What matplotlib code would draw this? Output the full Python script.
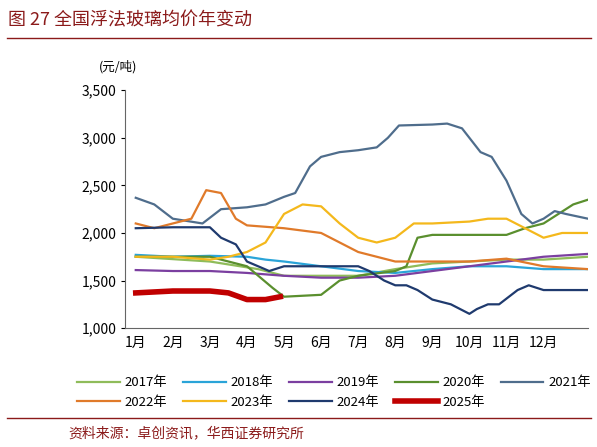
import matplotlib
matplotlib.use("Agg")
import matplotlib.pyplot as plt
from matplotlib.lines import Line2D

plt.rcParams['font.family'] = ['Noto Sans CJK SC', 'DejaVu Sans']

months = ['1月','2月','3月','4月','5月','6月','7月','8月','9月','10月','11月','12月']
x2017 = [1,3,4.3,5,6,7,8,9,10,11,12,13.2]
y2017 = [1750,1700,1620,1550,1550,1550,1620,1680,1700,1720,1720,1750]
x2018 = [1,2,3,4,4.5,5,6,7,8,9,10,11,12,13.2]
y2018 = [1770,1750,1760,1750,1720,1700,1650,1600,1580,1620,1650,1650,1620,1620]
x2019 = [1,2,3,4,5,6,7,8,9,10,11,12,13.2]
y2019 = [1610,1600,1600,1580,1550,1530,1530,1550,1600,1650,1700,1750,1780]
x2020 = [1,2,3,4,4.7,5,6,6.5,7,8,8.3,8.6,9,10,11,11.5,12,12.8,13.2]
y2020 = [1750,1750,1750,1650,1420,1330,1350,1500,1550,1600,1650,1950,1980,1980,1980,2050,2100,2300,2350]
x2021 = [1,1.5,2,2.8,3.3,4,4.5,5,5.3,5.7,6,6.5,7,7.5,7.8,8.1,9,9.4,9.8,10.3,10.6,11,11.4,11.7,12,12.3,12.6,13.2]
y2021 = [2370,2300,2150,2100,2250,2270,2300,2380,2420,2700,2800,2850,2870,2900,3000,3130,3140,3150,3100,2850,2800,2550,2200,2100,2150,2230,2200,2150]
x2022 = [1,1.5,2.5,2.9,3.3,3.7,4,5,6,6.5,7,7.5,8,9,10,11,12,13.2]
y2022 = [2100,2050,2150,2450,2420,2150,2080,2050,2000,1900,1800,1750,1700,1700,1700,1730,1650,1620]
x2023 = [1,2,3,3.5,4,4.5,5,5.5,6,6.5,7,7.5,8,8.5,9,10,10.5,11,11.5,12,12.5,13.2]
y2023 = [1750,1750,1720,1750,1800,1900,2200,2300,2280,2100,1950,1900,1950,2100,2100,2120,2150,2150,2050,1950,2000,2000]
x2024 = [1,2,3,3.3,3.7,4,4.3,4.6,5,6,7,7.3,7.7,8,8.3,8.6,9,9.5,10,10.2,10.5,10.8,11.3,11.6,12,13.2]
y2024 = [2050,2060,2060,1950,1880,1700,1650,1600,1650,1650,1650,1600,1500,1450,1450,1400,1300,1250,1150,1200,1250,1250,1400,1450,1400,1400]
x2025 = [1,2,3,3.5,4,4.5,4.9]
y2025 = [1370,1390,1390,1370,1300,1300,1330]

series = [
    ('2017年', x2017, y2017, '#8fbc5a', 1.6),
    ('2018年', x2018, y2018, '#2aa4d8', 1.6),
    ('2019年', x2019, y2019, '#7b3fa0', 1.6),
    ('2020年', x2020, y2020, '#5a8f2e', 1.6),
    ('2021年', x2021, y2021, '#4f6d8c', 1.6),
    ('2022年', x2022, y2022, '#e07a2a', 1.6),
    ('2023年', x2023, y2023, '#f4b81c', 1.6),
    ('2024年', x2024, y2024, '#1f3a6e', 1.6),
    ('2025年', x2025, y2025, '#c00000', 4.0),
]

fig = plt.figure(figsize=(5.97, 4.47), dpi=100)
ax = fig.add_axes([0.21, 0.266, 0.775, 0.532])
for name, xs, ys, c, lw in series:
    ax.plot(xs, ys, color=c, lw=lw, label=name)

ax.set_xlim(0.72, 13.2)
ax.set_ylim(1000, 3500)
ax.set_yticks(range(1000, 3501, 500))
ax.set_yticklabels([f'{v:,}' for v in range(1000, 3501, 500)], fontsize=10)
ax.set_xticks(range(1, 13))
ax.set_xticklabels(months, fontsize=10)
ax.tick_params(axis='x', length=0, pad=6)
ax.tick_params(axis='y', direction='out', length=3)
for s in ['top', 'right']:
    ax.spines[s].set_visible(False)
ax.spines['left'].set_color('#666666')
ax.spines['bottom'].set_color('#666666')

order = [0, 5, 1, 6, 2, 7, 3, 8, 4]
handles = [Line2D([], [], color=series[i][3], lw=series[i][4]) for i in order]
labels = [series[i][0] for i in order]
fig.legend(handles, labels, loc='upper center', bbox_to_anchor=(0.56, 0.185), ncol=5,
           frameon=False, fontsize=9.5, handlelength=3.2, columnspacing=1.2, handletextpad=0.4)

fig.text(0.165, 0.843, '(元/吨)', fontsize=9)
fig.text(0.013, 0.955, '图 27 全国浮法玻璃均价年变动', fontsize=13, color='#8b1a1a', va='center')
fig.add_artist(Line2D([0.012, 0.99], [0.915, 0.915], color='#8b1a1a', lw=1))
fig.add_artist(Line2D([0.012, 0.99], [0.065, 0.065], color='#8b1a1a', lw=1))
fig.text(0.115, 0.03, '资料来源：卓创资讯，华西证券研究所', fontsize=10, color='#8b1a1a', va='center')

fig.savefig('out.png', dpi=100)
